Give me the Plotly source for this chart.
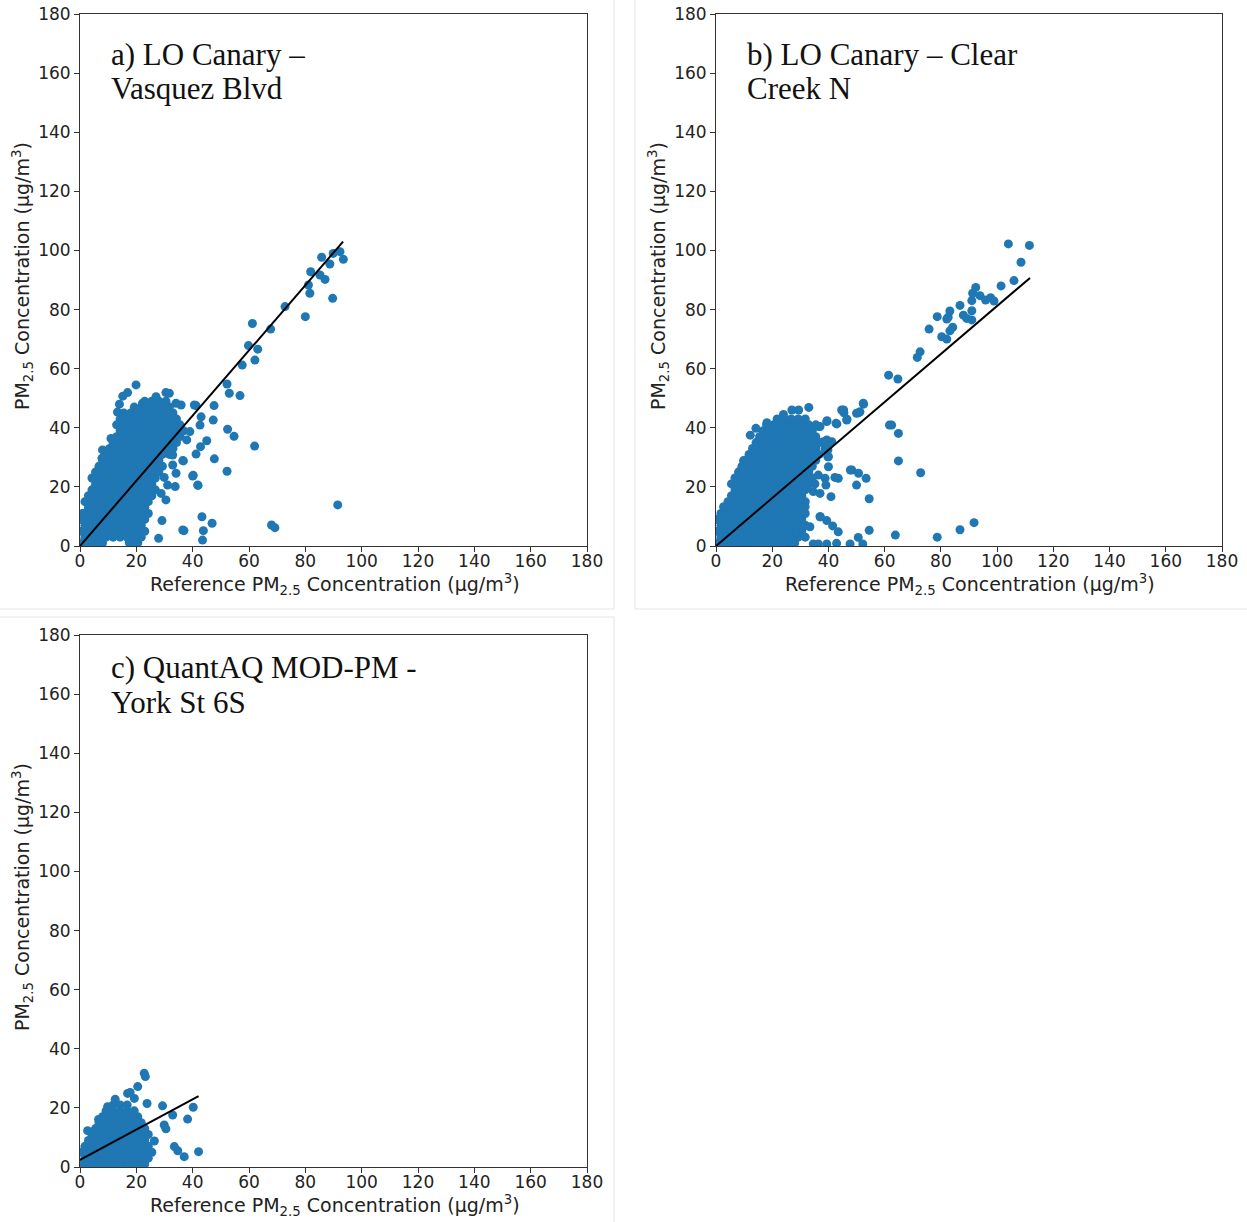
import plotly.graph_objects as go

# ---------------- data ----------------
tick_vals = [0, 20, 40, 60, 80, 100, 120, 140, 160, 180]
tick_text = ["0", "20", "40", "60", "80", "100", "120", "140", "160", "180"]

# Panel a) dense cloud, row by row (y level, x positions of dots)
a_blob_rows_y = [1, 3, 5, 7, 9, 11, 13, 15, 17, 19, 21, 23, 25, 27, 29, 31, 33, 35, 37, 39, 41, 43, 45, 47, 49]
a_blob_rows_x = [
    [0.5, 3, 5.5, 8, 18, 20.5],
    [1.75, 4.25, 6.75, 9.25, 11.75, 14.25, 16.75, 19.25, 21.75],
    [0.5, 3, 5.5, 8, 10.5, 13, 15.5, 18, 20.5, 23],
    [1.75, 4.25, 6.75, 9.25, 11.75, 14.25, 16.75, 19.25, 21.75],
    [0.5, 3, 5.5, 8, 10.5, 13, 15.5, 18, 20.5, 23],
    [1.75, 4.25, 6.75, 9.25, 11.75, 14.25, 16.75, 19.25, 21.75, 24.25],
    [3, 5.5, 8, 10.5, 13, 15.5, 18, 20.5, 23],
    [1.75, 4.25, 6.75, 9.25, 11.75, 14.25, 16.75, 19.25, 21.75, 24.25],
    [3, 5.5, 8, 10.5, 13, 15.5, 18, 20.5, 23, 25.5],
    [4.25, 6.75, 9.25, 11.75, 14.25, 16.75, 19.25, 21.75, 24.25, 26.75],
    [5.5, 8, 10.5, 13, 15.5, 18, 20.5, 23, 25.5],
    [4.25, 6.75, 9.25, 11.75, 14.25, 16.75, 19.25, 21.75, 24.25, 26.75],
    [5.5, 8, 10.5, 13, 15.5, 18, 20.5, 23, 25.5, 28],
    [6.75, 9.25, 11.75, 14.25, 16.75, 19.25, 21.75, 24.25, 26.75, 29.25],
    [8, 10.5, 13, 15.5, 18, 20.5, 23, 25.5, 28],
    [9.25, 11.75, 14.25, 16.75, 19.25, 21.75, 24.25, 26.75, 29.25, 31.75],
    [10.5, 13, 15.5, 18, 20.5, 23, 25.5, 28, 30.5, 33],
    [11.75, 14.25, 16.75, 19.25, 21.75, 24.25, 26.75, 29.25, 31.75, 34.25],
    [13, 15.5, 18, 20.5, 23, 25.5, 28, 30.5, 33, 35.5],
    [14.25, 16.75, 19.25, 21.75, 24.25, 26.75, 29.25, 31.75, 34.25, 36.75],
    [13, 15.5, 18, 20.5, 23, 25.5, 28, 30.5, 33, 35.5],
    [14.25, 16.75, 19.25, 21.75, 24.25, 26.75, 29.25, 31.75, 34.25],
    [15.5, 18, 20.5, 23, 25.5, 28, 30.5, 33],
    [19.25, 21.75, 24.25, 26.75, 29.25, 31.75],
    [23, 25.5, 28, 30.5],
]
a_out_x = [92.3, 89.9, 93.5, 85.8, 88.7, 81.9, 85.2, 87.0, 81.1, 81.6, 89.7, 72.8, 80.0, 61.2, 67.7,
           59.8, 63.1, 62.1, 57.6, 52.2, 53.0, 56.8, 62.0, 47.6, 47.3, 52.4, 54.7, 45.0, 42.8, 41.2,
           47.7, 36.7, 52.2, 40.2, 41.9, 91.5, 43.3, 46.9, 36.9, 43.8, 43.5, 68.0, 69.2, 41.2, 43.0,
           42.6, 39.0, 37.9, 19.9, 16.9, 15.2, 14.0, 13.3, 11.0, 8.0, 7.8, 1.0, 22.2, 27.0, 30.5,
           31.7, 34.1, 35.9, 40.6, 32.9, 36.5, 32.9, 40.0, 29.9, 34.1, 33.8, 31.1, 41.8, 28.8, 30.5,
           29.1, 36.5, 27.9, 17.5]
a_out_y = [99.6, 99.0, 97.0, 97.7, 95.4, 92.8, 91.7, 90.2, 88.3, 85.5, 83.8, 81.0, 77.6, 75.3, 73.4,
           67.8, 66.6, 62.9, 61.2, 54.8, 51.7, 50.9, 33.8, 47.5, 42.6, 39.5, 37.1, 35.6, 33.6, 31.1,
           29.5, 28.8, 25.3, 23.9, 20.5, 13.9, 9.9, 7.7, 5.2, 5.2, 2.0, 7.1, 6.2, 47.5, 43.7,
           40.9, 38.7, 35.9, 54.5, 51.9, 50.7, 48.0, 45.3, 36.4, 32.5, 29.7, 11.1, 48.3, 50.5, 51.9,
           51.7, 48.3, 47.7, 47.7, 30.8, 28.9, 27.4, 23.7, 23.2, 24.6, 20.1, 20.6, 20.6, 17.8, 15.6,
           8.6, 5.4, 2.6, 1.1]
a_fit_x = [0, 93.4]
a_fit_y = [0, 103.0]

# Panel b)
b_blob_rows_y = [1, 3, 5, 7, 9, 11, 13, 15, 17, 19, 21, 23, 25, 27, 29, 31, 33, 35, 37, 39, 41, 43]
b_blob_rows_x = [
    [0.5, 3, 5.5, 8, 10.5, 13, 15.5, 18, 20.5, 23, 25.5, 28],
    [1.75, 4.25, 6.75, 9.25, 11.75, 14.25, 16.75, 19.25, 21.75, 24.25, 26.75, 29.25, 31.75],
    [0.5, 3, 5.5, 8, 10.5, 13, 15.5, 18, 20.5, 23, 25.5, 28, 30.5],
    [1.75, 4.25, 6.75, 9.25, 11.75, 14.25, 16.75, 19.25, 21.75, 24.25, 26.75, 29.25, 31.75],
    [0.5, 3, 5.5, 8, 10.5, 13, 15.5, 18, 20.5, 23, 25.5, 28, 30.5],
    [1.75, 4.25, 6.75, 9.25, 11.75, 14.25, 16.75, 19.25, 21.75, 24.25, 26.75, 29.25, 31.75],
    [3, 5.5, 8, 10.5, 13, 15.5, 18, 20.5, 23, 25.5, 28, 30.5],
    [4.25, 6.75, 9.25, 11.75, 14.25, 16.75, 19.25, 21.75, 24.25, 26.75, 29.25, 31.75],
    [5.5, 8, 10.5, 13, 15.5, 18, 20.5, 23, 25.5, 28, 30.5],
    [6.75, 9.25, 11.75, 14.25, 16.75, 19.25, 21.75, 24.25, 26.75, 29.25, 31.75],
    [5.5, 8, 10.5, 13, 15.5, 18, 20.5, 23, 25.5, 28, 30.5, 33],
    [6.75, 9.25, 11.75, 14.25, 16.75, 19.25, 21.75, 24.25, 26.75, 29.25, 31.75, 34.25],
    [8, 10.5, 13, 15.5, 18, 20.5, 23, 25.5, 28, 30.5, 33],
    [9.25, 11.75, 14.25, 16.75, 19.25, 21.75, 24.25, 26.75, 29.25, 31.75, 34.25],
    [10.5, 13, 15.5, 18, 20.5, 23, 25.5, 28, 30.5, 33, 35.5],
    [11.75, 14.25, 16.75, 19.25, 21.75, 24.25, 26.75, 29.25, 31.75, 34.25, 36.75],
    [13, 15.5, 18, 20.5, 23, 25.5, 28, 30.5, 33, 35.5],
    [14.25, 16.75, 19.25, 21.75, 24.25, 26.75, 29.25, 31.75, 34.25, 36.75],
    [15.5, 18, 20.5, 23, 25.5, 28, 30.5, 33, 35.5],
    [16.75, 19.25, 21.75, 24.25, 26.75, 29.25, 31.75, 34.25],
    [18, 20.5, 23, 25.5, 28, 30.5, 33, 35.5],
    [21.75, 24.25, 26.75, 29.25, 31.75],
]
b_out_x = [104.0, 111.5, 108.5, 106.0, 101.4, 92.4, 91.3, 93.9, 95.9, 97.7, 98.9, 91.0, 86.8, 83.2, 82.6,
           82.1, 91.0, 88.0, 89.2, 91.0, 78.7, 84.2, 83.2, 75.8, 80.3, 82.1, 72.6, 71.6, 61.4, 64.7,
           52.4, 51.2, 46.5, 44.7, 45.5, 50.0, 42.7, 39.4, 37.0, 62.5, 64.9, 64.9, 72.8, 39.4, 41.2,
           38.8, 40.0, 40.0, 48.3, 50.7, 53.4, 42.3, 43.5, 50.0, 38.8, 39.1, 37.0, 40.9, 54.5, 37.0,
           39.4, 41.5, 43.5, 54.5, 63.8, 78.7, 86.8, 91.8, 50.6, 47.7, 52.2, 42.9, 34.6, 36.4, 39.4,
           31.1, 33.4, 29.9, 28.7, 31.7, 35.2, 32.3, 34.6, 36.4, 39.8, 39.4, 38.2, 33.0, 29.4, 27.0,
           24.0, 18.1, 14.2, 20.5, 12.2, 9.8, 9.2, 6.9, 2.7, 36.5, 39.5, 43.0, 45.4, 46.6, 50.7,
           52.5, 61.7, 47.8, 39.8, 30.6, 37.1, 30.6]
b_out_y = [102.2, 101.7, 96.0, 89.8, 88.0, 87.5, 85.5, 84.7, 83.2, 84.0, 82.9, 83.0, 81.4, 79.5, 77.4,
           76.8, 79.6, 78.1, 77.0, 76.5, 77.6, 74.0, 72.8, 73.4, 70.8, 70.0, 65.7, 63.8, 57.8, 56.5,
           48.3, 45.4, 42.6, 46.0, 45.1, 44.9, 41.5, 42.1, 40.4, 40.9, 38.1, 28.8, 24.8, 35.9, 35.3,
           33.0, 30.2, 26.8, 25.7, 24.6, 22.9, 23.2, 22.9, 20.6, 22.9, 20.6, 17.8, 16.7, 16.0, 9.9,
           8.6, 6.8, 4.8, 5.3, 3.7, 3.0, 5.5, 7.9, 2.9, 0.7, 0.7, 0.9, 0.7, 0.7, 0.7,
           6.5, 6.5, 9.4, 4.8, 13.3, 21.0, 19.9, 18.4, 24.0, 30.2, 33.6, 35.3, 46.9, 46.0, 46.0,
           44.5, 41.7, 39.8, 37.8, 37.5, 28.9, 26.3, 22.3, 13.3, 40.4, 42.4, 41.3, 46.0, 42.9, 45.1,
           48.0, 40.9, 25.7, 32.5, 16.1, 9.9, 6.5]
b_fit_x = [0, 111.7]
b_fit_y = [0, 90.7]

# Panel c)
c_blob_rows_y = [1, 3, 5, 7, 9, 11, 13, 15, 17, 19, 21]
c_blob_rows_x = [
    [0.5, 3, 5.5, 8, 10.5, 13, 15.5, 18, 20.5, 23],
    [1.75, 4.25, 6.75, 9.25, 11.75, 14.25, 16.75, 19.25, 21.75, 24.25],
    [0.5, 3, 5.5, 8, 10.5, 13, 15.5, 18, 20.5, 23, 25.5],
    [1.75, 4.25, 6.75, 9.25, 11.75, 14.25, 16.75, 19.25, 21.75, 24.25],
    [3, 5.5, 8, 10.5, 13, 15.5, 18, 20.5, 23],
    [4.25, 6.75, 9.25, 11.75, 14.25, 16.75, 19.25, 21.75, 24.25],
    [5.5, 8, 10.5, 13, 15.5, 18, 20.5, 23],
    [6.75, 9.25, 11.75, 14.25, 16.75, 19.25, 21.75],
    [8, 10.5, 13, 15.5, 18, 20.5],
    [9.25, 11.75, 14.25, 16.75, 19.25],
    [11.75, 14.25, 16.75],
]
c_out_x = [22.8, 23.2, 20.5, 16.9, 17.8, 12.5, 19.3, 23.8, 29.3, 40.2, 32.9, 38.2, 29.9, 30.5, 26.4,
           33.5, 34.7, 37.0, 42.1, 6.6, 2.7, 19.9, 9.8, 14.6]
c_out_y = [31.7, 30.6, 27.2, 24.9, 25.2, 22.9, 23.2, 21.5, 20.7, 20.2, 17.6, 16.2, 14.2, 12.9, 8.8,
           6.9, 5.5, 3.5, 5.2, 16.1, 12.3, 15.7, 20.4, 2.4]
c_fit_x = [0, 42.1]
c_fit_y = [2.4, 24.0]

panel_titles = [["a) LO Canary –", "Vasquez Blvd"],
                ["b) LO Canary – Clear", "Creek N"],
                ["c) QuantAQ MOD-PM -", "York St 6S"]]
x_title = "Reference PM<sub>2.5</sub> Concentration (μg/m<sup>3</sup>)"
y_title = "PM<sub>2.5</sub> Concentration (μg/m<sup>3</sup>)"

# ---------------- layout helpers ----------------
W, H = 1247, 1222
def fx(p):
    return p / W
def fy(p):
    return 1 - p / H

BLUE = "#1f77b4"
SPINE = "#333333"

def flatten(rows_y, rows_x):
    xs, ys = [], []
    for yv, row in zip(rows_y, rows_x):
        for xv in row:
            xs.append(xv)
            ys.append(yv)
    return xs, ys

panels = [
    dict(rows=(a_blob_rows_y, a_blob_rows_x), out=(a_out_x, a_out_y), fit=(a_fit_x, a_fit_y),
         top=14, left=80, right=587, bottom=546, t1=41, t2=75),
    dict(rows=(b_blob_rows_y, b_blob_rows_x), out=(b_out_x, b_out_y), fit=(b_fit_x, b_fit_y),
         top=14, left=716, right=1222, bottom=546, t1=41, t2=75),
    dict(rows=(c_blob_rows_y, c_blob_rows_x), out=(c_out_x, c_out_y), fit=(c_fit_x, c_fit_y),
         top=635, left=80, right=587, bottom=1167, t1=32, t2=67),
]

fig = go.Figure()
annotations = []
layout_axes = {}

for i, p in enumerate(panels):
    n = "" if i == 0 else str(i + 1)
    xref, yref = "x" + n, "y" + n
    bx, by = flatten(*p["rows"])
    xs = bx + list(p["out"][0])
    ys = by + list(p["out"][1])
    fig.add_trace(go.Scatter(x=xs, y=ys, mode="markers", xaxis=xref, yaxis=yref,
                             marker=dict(color=BLUE, size=9, line=dict(width=0)),
                             showlegend=False, hoverinfo="skip"))
    fig.add_trace(go.Scatter(x=p["fit"][0], y=p["fit"][1], mode="lines", xaxis=xref, yaxis=yref,
                             line=dict(color="black", width=2), showlegend=False, hoverinfo="skip"))
    common = dict(range=[0, 180], tickmode="array", tickvals=tick_vals, ticktext=tick_text,
                  showline=True, mirror=True, linecolor=SPINE, linewidth=1,
                  ticks="outside", ticklen=5, tickwidth=1, tickcolor=SPINE,
                  showgrid=False, zeroline=False, fixedrange=True, automargin=False,
                  tickfont=dict(family="DejaVu Sans", size=17, color="#222222"))
    layout_axes["xaxis" + n] = dict(domain=[fx(p["left"]), fx(p["right"])], anchor=yref,
                                    ticklabelstandoff=-5, **common)
    layout_axes["yaxis" + n] = dict(domain=[fy(p["bottom"]), fy(p["top"])], anchor=xref, **common)

    # panel titles (two lines)
    t1, t2 = panel_titles[i]
    tx = p["left"] + 29
    for txt, ty in [(t1, p["top"] + p["t1"]), (t2, p["top"] + p["t2"])]:
        annotations.append(dict(text=txt, xref="paper", yref="paper", x=fx(tx), y=fy(ty),
                                xanchor="left", yanchor="middle", showarrow=False,
                                font=dict(family="Liberation Serif", size=31, color="#111111")))
    # axis titles
    cx = (p["left"] + p["right"]) / 2 + 1
    annotations.append(dict(text=x_title, xref="paper", yref="paper", x=fx(cx), y=fy(p["bottom"] + 38),
                            xanchor="center", yanchor="middle", showarrow=False,
                            font=dict(family="DejaVu Sans", size=19, color="#222222")))
    annotations.append(dict(text=y_title, xref="paper", yref="paper", x=fx(p["left"] - 58),
                            y=fy((p["top"] + p["bottom"]) / 2 - 4), textangle=-90,
                            xanchor="center", yanchor="middle", showarrow=False,
                            font=dict(family="DejaVu Sans", size=19, color="#222222")))

# faint panel frames
frame = dict(color="#e4e4e4", width=1)
shapes = [
    dict(type="line", xref="paper", yref="paper", x0=fx(614), x1=fx(614), y0=fy(0), y1=fy(609), line=frame),
    dict(type="line", xref="paper", yref="paper", x0=fx(0), x1=fx(614), y0=fy(609), y1=fy(609), line=frame),
    dict(type="line", xref="paper", yref="paper", x0=fx(635), x1=fx(635), y0=fy(0), y1=fy(609), line=frame),
    dict(type="line", xref="paper", yref="paper", x0=fx(635), x1=fx(1247), y0=fy(609), y1=fy(609), line=frame),
    dict(type="line", xref="paper", yref="paper", x0=fx(0), x1=fx(614), y0=fy(617), y1=fy(617), line=frame),
    dict(type="line", xref="paper", yref="paper", x0=fx(614), x1=fx(614), y0=fy(617), y1=fy(1222), line=frame),
]

fig.update_layout(width=W, height=H, margin=dict(l=0, r=0, t=0, b=0, pad=0),
                  paper_bgcolor="white", plot_bgcolor="white",
                  annotations=annotations, shapes=shapes, **layout_axes)

fig.write_html("out.html", config={"displayModeBar": False},
               post_script="document.body.style.margin='0';document.body.style.padding='0';"
                           "document.body.style.overflow='hidden';")
